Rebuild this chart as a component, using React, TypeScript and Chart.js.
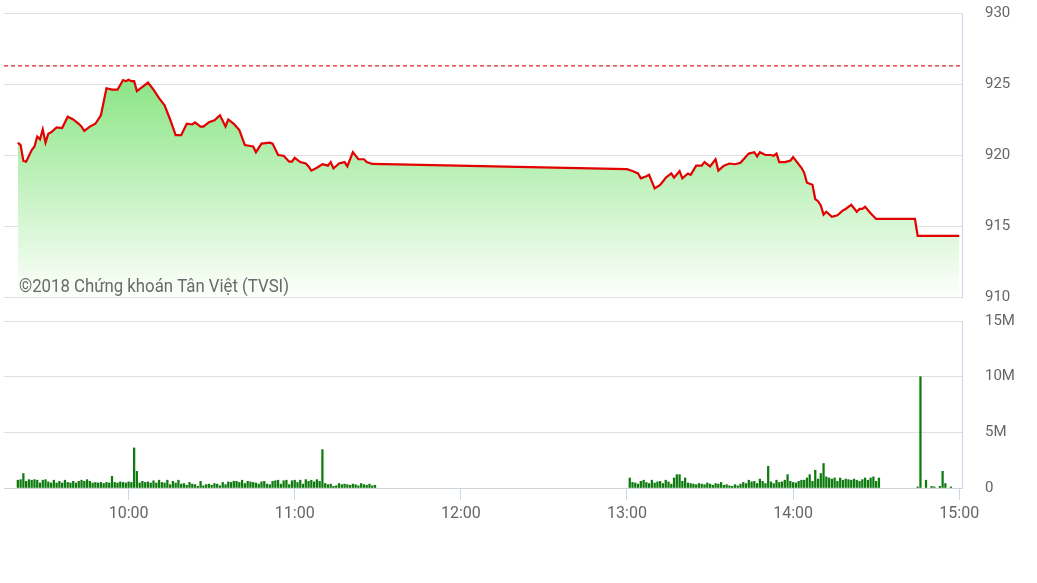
import { useEffect, useRef } from "react";
import { Chart, registerables } from "chart.js";

Chart.register(...registerables);

// ---------- data ----------
const sessionStart = "09:15";
const sessionEnd = "15:01";
const timeTickLabels = ["10:00", "11:00", "12:00", "13:00", "14:00", "15:00"];
const priceTicks = [910, 915, 920, 925, 930];
const volumeTicks = [0, 5, 10, 15]; // millions
const referencePrice = 926.27;
const watermark = "©2018 Chứng khoán Tân Việt (TVSI)";

const priceTimes = [
  "09:20", "09:21", "09:22", "09:23", "09:25", "09:26", "09:27", "09:28", "09:29", "09:30",
  "09:31", "09:32", "09:34", "09:36", "09:38", "09:40", "09:42", "09:43", "09:44", "09:46",
  "09:48", "09:50", "09:52", "09:54", "09:56", "09:58", "09:59", "10:00", "10:01", "10:02",
  "10:03", "10:05", "10:07", "10:09", "10:11", "10:13", "10:15", "10:17", "10:19", "10:21",
  "10:23", "10:24", "10:26", "10:27", "10:29", "10:31", "10:33", "10:35", "10:36", "10:38",
  "10:40", "10:42", "10:45", "10:46", "10:48", "10:51", "10:52", "10:54", "10:56", "10:58",
  "10:59", "11:00", "11:02", "11:04", "11:05", "11:06", "11:08", "11:10", "11:12", "11:13",
  "11:14", "11:16", "11:18", "11:19", "11:21", "11:23", "11:25", "11:26", "11:28",
  "13:00", "13:02", "13:04", "13:05", "13:07", "13:08", "13:10", "13:12", "13:14", "13:16",
  "13:17", "13:19", "13:20", "13:22", "13:23", "13:25", "13:27", "13:28", "13:30", "13:32",
  "13:33", "13:35", "13:37", "13:39", "13:41", "13:43", "13:44", "13:46", "13:47", "13:48",
  "13:50", "13:52", "13:53", "13:54", "13:55", "13:57", "13:59", "14:00", "14:03", "14:04",
  "14:05", "14:07", "14:08", "14:09", "14:10", "14:11", "14:12", "14:14", "14:16", "14:18",
  "14:19", "14:21", "14:23", "14:24", "14:25", "14:26", "14:28", "14:30", "14:44", "14:45",
  "15:00",
];
const priceValues = [
  920.87, 920.7, 919.58, 919.53, 920.35, 920.6, 921.3, 921.1, 921.8, 920.87,
  921.5, 921.6, 921.95, 921.9, 922.7, 922.5, 922.2, 922.0, 921.7, 922.0,
  922.2, 922.8, 924.7, 924.6, 924.6, 925.28, 925.2, 925.3, 925.2, 925.2,
  924.5, 924.8, 925.1, 924.6, 924.0, 923.5, 922.5, 921.4, 921.4, 922.2,
  922.15, 922.3, 922.0, 922.0, 922.3, 922.45, 922.8, 922.0, 922.5, 922.2,
  921.75, 920.7, 920.6, 920.2, 920.8, 920.87, 920.8, 920.0, 919.95, 919.53,
  919.53, 919.8, 919.5, 919.4, 919.2, 918.9, 919.1, 919.35, 919.25, 919.5,
  919.05, 919.4, 919.5, 919.2, 920.2, 919.7, 919.7, 919.5, 919.37,
  919.0, 918.87, 918.7, 918.36, 918.5, 918.6, 917.65, 917.9, 918.4, 918.7,
  918.4, 918.87, 918.36, 918.7, 918.6, 919.25, 919.25, 919.5, 919.2, 919.7,
  918.9, 919.25, 919.4, 919.35, 919.45, 919.9, 920.1, 920.2, 919.9, 920.2,
  920.0, 920.0, 919.95, 920.1, 919.5, 919.5, 919.6, 919.85, 919.1, 918.75,
  918.05, 917.9, 916.9, 916.75, 916.45, 915.8, 916.0, 915.65, 915.75, 916.1,
  916.2, 916.5, 916.0, 916.2, 916.2, 916.35, 915.9, 915.5, 915.5, 914.3,
  914.3,
];

// volume per minute, in millions
const morningVolumeStart = "09:20";
const morningVolumes = [
  0.7, 0.75, 1.3, 0.6, 0.75, 0.7, 0.75, 0.7, 0.45, 0.7,
  0.75, 0.55, 0.45, 0.7, 0.45, 0.6, 0.45, 0.7, 0.5, 0.45,
  0.6, 0.45, 0.6, 0.7, 0.6, 0.75, 0.6, 0.45, 0.5, 0.45,
  0.5, 0.4, 0.5, 0.45, 1.05, 0.5, 0.45, 0.55, 0.5, 0.45,
  0.55, 0.5, 3.6, 1.5, 0.45, 0.6, 0.5, 0.55, 0.45, 0.65,
  0.45, 0.7, 0.5, 0.45, 0.7, 0.3, 0.6, 0.45, 0.7, 0.35,
  0.4, 0.25, 0.5, 0.35, 0.3, 0.15, 0.6, 0.2, 0.3, 0.35,
  0.25, 0.4, 0.35, 0.2, 0.5, 0.3, 0.55, 0.5, 0.6, 0.6,
  0.5, 0.7, 0.4, 0.6, 0.55, 0.5, 0.45, 0.35, 0.55, 0.6,
  0.35, 0.3, 0.6, 0.65, 0.7, 0.35, 0.65, 0.7, 0.3, 0.65,
  0.7, 0.5, 0.7, 0.35, 0.75, 0.6, 0.7, 0.55, 0.75, 0.6,
  3.45, 0.4, 0.3, 0.35, 0.15, 0.2, 0.4, 0.3, 0.35, 0.3,
  0.25, 0.35, 0.3, 0.2, 0.4, 0.3, 0.25, 0.35, 0.2, 0.25,
];
const afternoonVolumeStart = "13:01";
const afternoonVolumes = [
  0.9, 0.5, 0.45, 0.35, 0.6, 0.7, 0.5, 0.4, 0.7, 0.45,
  0.55, 0.6, 0.4, 0.7, 0.55, 0.35, 0.9, 1.2, 1.2, 0.6,
  0.9, 0.45, 0.4, 0.35, 0.3, 0.4, 0.35, 0.3, 0.45, 0.35,
  0.25, 0.4, 0.35, 0.5, 0.25, 0.3, 0.2, 0.15, 0.3, 0.2,
  0.35, 0.5, 0.4, 0.7, 0.55, 0.6, 0.4, 0.8, 0.6, 0.4,
  1.95, 0.55, 0.4, 0.7, 0.5, 0.55, 0.7, 1.2, 0.6, 0.5,
  0.45, 0.6, 0.7, 0.7, 0.9, 1.2, 0.6, 1.6, 0.8, 1.3,
  2.2, 1.0, 0.9, 0.8, 0.9, 0.6, 0.9, 0.7, 0.8, 0.75,
  0.7, 0.8, 0.7, 0.6, 0.75, 0.9, 0.7, 0.9, 1.0, 0.6,
  0.9,
];
const closingVolumeTimes = ["14:45", "14:46", "14:48", "14:50", "14:51", "14:53", "14:54", "14:55", "14:57"];
const closingVolumes = [0.1, 10.0, 0.7, 0.15, 0.1, 0.15, 1.5, 0.4, 0.1];

// ---------- helpers ----------
const toMin = (t: string) => {
  const [h, m] = t.split(":").map(Number);
  return h * 60 + m;
};
const fmtTime = (v: number) => {
  const h = Math.floor(v / 60);
  const m = Math.round(v - h * 60);
  return `${h}:${m < 10 ? "0" + m : m}`;
};

const FONT = "Roboto, 'Noto Sans', sans-serif";
const LABEL_COLOR = "#666666";
const GRID_COLOR = "#e0e0e0";
const AXIS_COLOR = "#ccd6eb";

export default function App() {
  const priceRef = useRef<HTMLCanvasElement | null>(null);
  const volRef = useRef<HTMLCanvasElement | null>(null);

  useEffect(() => {
    const xMin = toMin(sessionStart);
    const xMax = toMin(sessionEnd);

    const pricePoints = priceTimes.map((t, i) => ({ x: toMin(t), y: priceValues[i] }));
    const refPoints = [
      { x: xMin, y: referencePrice },
      { x: xMax, y: referencePrice },
    ];

    const volPoints: { x: number; y: number }[] = [];
    morningVolumes.forEach((v, i) => volPoints.push({ x: toMin(morningVolumeStart) + i, y: v }));
    afternoonVolumes.forEach((v, i) => volPoints.push({ x: toMin(afternoonVolumeStart) + i, y: v }));
    closingVolumeTimes.forEach((t, i) => volPoints.push({ x: toMin(t), y: closingVolumes[i] }));

    const watermarkPlugin = {
      id: "watermark",
      afterDatasetsDraw(chart: any) {
        const { ctx, chartArea } = chart;
        ctx.save();
        ctx.font = `18px ${FONT}`;
        ctx.fillStyle = "#6a6a6a";
        ctx.textBaseline = "alphabetic";
        ctx.textAlign = "left";
        ctx.fillText(watermark, chartArea.left + 15, chartArea.bottom - 5, 270);
        ctx.restore();
      },
    };

    const yGrid = {
      color: GRID_COLOR,
      lineWidth: 1,
      drawTicks: true,
      tickLength: 23,
      tickColor: "rgba(0,0,0,0)",
    };

    const priceChart = new Chart(priceRef.current!, {
      type: "line",
      data: {
        datasets: [
          {
            data: pricePoints,
            borderColor: "#e30000",
            borderWidth: 2.2,
            pointRadius: 0,
            tension: 0,
            fill: "start",
            backgroundColor: (c: any) => {
              const { chart } = c;
              const area = chart.chartArea;
              if (!area) return "rgba(120,220,110,0.5)";
              const g = chart.ctx.createLinearGradient(0, area.top, 0, area.bottom);
              g.addColorStop(0, "rgb(104,221,97)");
              g.addColorStop(1, "rgb(253,255,252)");
              return g;
            },
            order: 2,
          },
          {
            data: refPoints,
            borderColor: "#e02020",
            borderWidth: 1.2,
            borderDash: [4, 3],
            pointRadius: 0,
            fill: false,
            order: 1,
          },
        ],
      },
      options: {
        animation: false,
        responsive: true,
        maintainAspectRatio: false,
        layout: { padding: { left: 4, top: 13, right: 0, bottom: 13 } },
        plugins: { legend: { display: false }, tooltip: { enabled: false } },
        scales: {
          x: { type: "linear", min: xMin, max: xMax, display: false },
          y: {
            position: "right",
            min: 910,
            max: 930,
            afterBuildTicks: (s: any) => {
              s.ticks = priceTicks.map((v) => ({ value: v }));
            },
            afterFit: (s: any) => {
              s.width = 75;
            },
            ticks: {
              color: LABEL_COLOR,
              font: { family: FONT, size: 15 },
              padding: 0,
              callback: (v: any) => String(v),
            },
            grid: yGrid,
            border: { display: true, color: AXIS_COLOR, width: 1 },
          },
        },
      },
      plugins: [watermarkPlugin],
    } as any);

    const volChart = new Chart(volRef.current!, {
      type: "bar",
      data: {
        datasets: [
          {
            data: volPoints,
            backgroundColor: "#0e7b0e",
            borderWidth: 0,
            barThickness: 1.6,
          },
        ],
      },
      options: {
        animation: false,
        responsive: true,
        maintainAspectRatio: false,
        layout: { padding: { left: 4, top: 16, right: 0, bottom: 55 } },
        plugins: { legend: { display: false }, tooltip: { enabled: false } },
        scales: {
          x: {
            type: "linear",
            min: xMin,
            max: xMax,
            offset: false,
            afterBuildTicks: (s: any) => {
              s.ticks = timeTickLabels.map((t) => ({ value: toMin(t) }));
            },
            afterFit: (s: any) => {
              s.height = 40;
            },
            ticks: {
              color: LABEL_COLOR,
              font: { family: FONT, size: 16 },
              padding: 4,
              maxRotation: 0,
              autoSkip: false,
              callback: (v: any) => fmtTime(Number(v)),
            },
            grid: {
              offset: false,
              drawOnChartArea: false,
              drawTicks: true,
              tickLength: 12,
              color: AXIS_COLOR,
            },
            border: { display: true, color: "#cfd5dd", width: 1 },
          },
          y: {
            position: "right",
            min: 0,
            max: 15,
            afterBuildTicks: (s: any) => {
              s.ticks = volumeTicks.map((v) => ({ value: v }));
            },
            afterFit: (s: any) => {
              s.width = 75;
            },
            ticks: {
              color: LABEL_COLOR,
              font: { family: FONT, size: 15 },
              padding: 0,
              callback: (v: any) => (Number(v) === 0 ? "0" : `${v}M`),
            },
            grid: yGrid,
            border: { display: true, color: AXIS_COLOR, width: 1 },
          },
        },
      },
    } as any);

    return () => {
      priceChart.destroy();
      volChart.destroy();
    };
  }, []);

  return (
    <div
      style={{
        position: "fixed",
        left: 0,
        top: 0,
        width: 1037,
        height: 583,
        background: "#ffffff",
        overflow: "hidden",
      }}
    >
      <div style={{ position: "absolute", left: 0, top: 0, width: 1037, height: 310 }}>
        <canvas ref={priceRef} />
      </div>
      <div style={{ position: "absolute", left: 0, top: 305, width: 1037, height: 278 }}>
        <canvas ref={volRef} />
      </div>
    </div>
  );
}
